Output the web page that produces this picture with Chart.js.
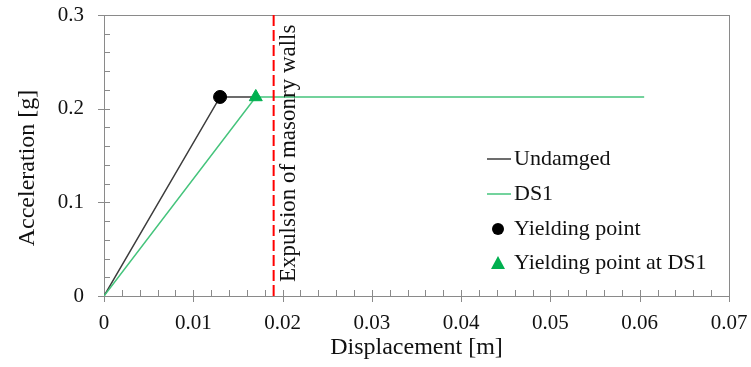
<!DOCTYPE html>
<html><head><meta charset="utf-8">
<script src="https://cdn.jsdelivr.net/npm/chart.js@4/dist/chart.umd.min.js"></script>
<style>html,body{margin:0;padding:0;background:#fff}#wrap{width:751px;height:367px;position:relative}</style>
</head><body><div id="wrap"><canvas id="c" width="751" height="367"></canvas></div>
<script>
// ---- data ----
const undamagedX = [0, 0.013, 0.017];
const undamagedY = [0, 0.2125, 0.2125];
const ds1X = [0, 0.017, 0.0605];
const ds1Y = [0, 0.2125, 0.2125];
const yieldPointX = [0.013];
const yieldPointY = [0.2125];
const yieldPointDS1X = [0.017];
const yieldPointDS1Y = [0.2125];
const expulsionX = 0.019;
const expulsionLabel = 'Expulsion of masonry walls';
const xTickValues = [0, 0.01, 0.02, 0.03, 0.04, 0.05, 0.06, 0.07];
const yTickValues = [0, 0.1, 0.2, 0.3];
const xMinorStep = 0.002;
const yMinorStep = 0.02;
const xTitle = 'Displacement [m]';
const yTitle = 'Acceleration [g]';
const legendLabels = ['Undamged', 'DS1', 'Yielding point', 'Yielding point at DS1'];

const FONT = '"Liberation Serif", "Times New Roman", serif';
const AXIS_COLOR = '#8a8a8a';
const BLACK_LINE = '#3c3c3c';
const GREEN_LINE = '#45c47c';
const GREEN_MARK = '#00B050';

const zip = (xs, ys) => xs.map((x, i) => ({x, y: ys[i]}));
const noPad = s => { s.paddingLeft = 0; s.paddingRight = 0; s.paddingTop = 0; s.paddingBottom = 0; };

const framePlugin = {
  id: 'frame',
  beforeDatasetsDraw(chart) {
    const {ctx, chartArea: a, scales: {x, y}} = chart;
    ctx.save();
    ctx.strokeStyle = AXIS_COLOR;
    ctx.lineWidth = 1;
    ctx.strokeRect(Math.round(a.left) + 0.5, Math.round(a.top) + 0.5,
                   Math.round(a.right - a.left), Math.round(a.bottom - a.top));
    ctx.beginPath();
    const nx = Math.round((x.max - x.min) / xMinorStep);
    for (let i = 0; i <= nx; i++) {
      const v = x.min + i * xMinorStep;
      const px = Math.round(x.getPixelForValue(v)) + 0.5;
      const major = i % 5 === 0;
      ctx.moveTo(px, a.bottom - 6);
      ctx.lineTo(px, a.bottom + (major ? 6 : 0));
    }
    const ny = Math.round((y.max - y.min) / yMinorStep);
    for (let i = 0; i <= ny; i++) {
      const v = y.min + i * yMinorStep;
      const py = Math.round(y.getPixelForValue(v)) + 0.5;
      const major = i % 5 === 0;
      ctx.moveTo(a.left + 6, py);
      ctx.lineTo(a.left - (major ? 6 : 0), py);
    }
    ctx.stroke();
    ctx.restore();
  },
  afterDatasetsDraw(chart) {
    const {ctx, chartArea: a, scales: {x}} = chart;
    const px = x.getPixelForValue(expulsionX);
    ctx.save();
    ctx.strokeStyle = '#ff0000';
    ctx.lineWidth = 2;
    ctx.setLineDash([11, 4]);
    ctx.beginPath();
    ctx.moveTo(px, a.top);
    ctx.lineTo(px, a.bottom);
    ctx.stroke();
    ctx.setLineDash([]);
    ctx.translate(px + 21, a.bottom - 14);
    ctx.rotate(-Math.PI / 2);
    ctx.fillStyle = '#111';
    ctx.font = '23px ' + FONT;
    ctx.textAlign = 'left';
    ctx.textBaseline = 'alphabetic';
    ctx.fillText(expulsionLabel, 0, 0);
    ctx.restore();
  },
  afterDraw(chart) {
    const {ctx, chartArea: a} = chart;
    ctx.save();
    ctx.fillStyle = '#111';
    ctx.font = '24px ' + FONT;
    ctx.textAlign = 'center';
    ctx.textBaseline = 'middle';
    ctx.fillText(xTitle, (a.left + a.right) / 2, 348);
    ctx.save();
    ctx.translate(28, 168);
    ctx.rotate(-Math.PI / 2);
    ctx.fillText(yTitle, 0, 0);
    ctx.restore();
    const lx = 487, tx = 514;
    const rows = [159, 194, 229, 263];
    ctx.font = '22px ' + FONT;
    ctx.textAlign = 'left';
    ctx.textBaseline = 'middle';
    const ds = chart.data.datasets;
    for (let i = 0; i < legendLabels.length; i++) {
      const yy = rows[i];
      const d = ds[i];
      if (i < 2) {
        ctx.strokeStyle = d.borderColor;
        ctx.lineWidth = 1.5;
        ctx.beginPath();
        ctx.moveTo(lx, yy);
        ctx.lineTo(lx + 24, yy);
        ctx.stroke();
      } else if (i === 2) {
        ctx.fillStyle = d.backgroundColor;
        ctx.beginPath();
        ctx.arc(lx + 11, yy, 6, 0, Math.PI * 2);
        ctx.fill();
      } else {
        ctx.fillStyle = d.backgroundColor;
        ctx.beginPath();
        ctx.moveTo(lx + 11, yy - 7);
        ctx.lineTo(lx + 18, yy + 6);
        ctx.lineTo(lx + 4, yy + 6);
        ctx.closePath();
        ctx.fill();
      }
      ctx.fillStyle = '#111';
      ctx.fillText(legendLabels[i], tx, yy);
    }
    ctx.restore();
  }
};

new Chart(document.getElementById('c'), {
  type: 'scatter',
  data: {
    datasets: [
      {label: legendLabels[0], data: zip(undamagedX, undamagedY), showLine: true,
       borderColor: BLACK_LINE, borderWidth: 1.5, pointRadius: 0, order: 3},
      {label: legendLabels[1], data: zip(ds1X, ds1Y), showLine: true,
       borderColor: GREEN_LINE, borderWidth: 1.5, pointRadius: 0, order: 2},
      {label: legendLabels[2], data: zip(yieldPointX, yieldPointY), showLine: false,
       backgroundColor: '#000', borderColor: '#000', pointRadius: 6.5, pointStyle: 'circle', order: 1},
      {label: legendLabels[3], data: zip(yieldPointDS1X, yieldPointDS1Y), showLine: false,
       backgroundColor: GREEN_MARK, borderColor: GREEN_MARK, pointRadius: 7.5, pointStyle: 'triangle', order: 0}
    ]
  },
  options: {
    responsive: false,
    animation: false,
    events: [],
    layout: {padding: {top: 15, right: 22, left: 0, bottom: 0}},
    plugins: {legend: {display: false}, tooltip: {enabled: false}},
    scales: {
      x: {
        type: 'linear', min: 0, max: 0.07,
        afterBuildTicks: s => { s.ticks = xTickValues.map(v => ({value: v})); },
        afterFit: s => { s.height = 71; noPad(s); },
        grid: {display: false, drawTicks: false},
        border: {display: false},
        ticks: {padding: 15, color: '#111', font: {family: FONT, size: 21},
                maxRotation: 0, autoSkip: false, callback: v => String(+v.toFixed(2))}
      },
      y: {
        type: 'linear', min: 0, max: 0.3,
        afterBuildTicks: s => { s.ticks = yTickValues.map(v => ({value: v})); },
        afterFit: s => { s.width = 104; noPad(s); },
        grid: {display: false, drawTicks: false},
        border: {display: false},
        ticks: {padding: 20, color: '#111', font: {family: FONT, size: 21},
                callback: v => String(+v.toFixed(1))}
      }
    }
  },
  plugins: [framePlugin]
});
</script>
</body></html>
